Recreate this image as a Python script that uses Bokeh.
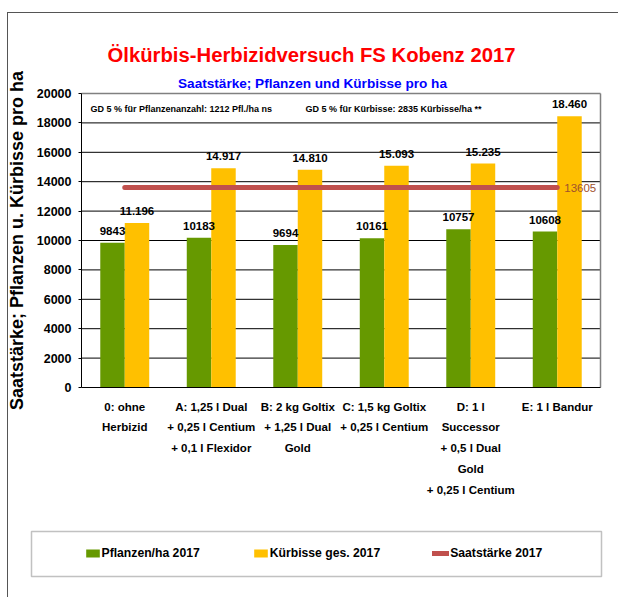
from bokeh.plotting import figure
from bokeh.models import (ColumnDataSource, FixedTicker, Label, Legend, LegendItem,
                          BoxAnnotation, Range1d)
from bokeh.transform import dodge
from bokeh.core.properties import value
from bokeh.embed import file_html
from bokeh.resources import INLINE

# ---------------- data ----------------
categories = [
    "0: ohne\nHerbizid",
    "A: 1,25 l Dual\n+ 0,25 l Centium\n+ 0,1 l Flexidor",
    "B: 2 kg Goltix\n+ 1,25 l Dual\nGold",
    "C: 1,5 kg Goltix\n+ 0,25 l Centium",
    "D: 1 l\nSuccessor\n+ 0,5 l Dual\nGold\n+ 0,25 l Centium",
    "E: 1 l Bandur",
]
pflanzen = [9843, 10183, 9694, 10161, 10757, 10608]
kuerbisse = [11196, 14917, 14810, 15093, 15235, 18460]
saatstaerke = [13605, 13605, 13605, 13605, 13605, 13605]
y_ticks = [0, 2000, 4000, 6000, 8000, 10000, 12000, 14000, 16000, 18000, 20000]

series_names = ["Pflanzen/ha 2017", "Kürbisse ges. 2017", "Saatstärke 2017"]
title_text = "Ölkürbis-Herbizidversuch FS Kobenz 2017"
subtitle_text = "Saatstärke; Pflanzen und Kürbisse pro ha"
y_label = "Saatstärke; Pflanzen u. Kürbisse pro ha"
gd_texts = ["GD 5 % für Pflanzenanzahl: 1212 Pfl./ha ns",
            "GD 5 % für Kürbisse:  2835 Kürbisse/ha **"]

FONT = "Liberation Sans"
GREEN = "#669900"
YELLOW = "#FFC000"
RED = "#C0504D"

n = len(categories)
y_max = y_ticks[-1]
xs = [i + 0.5 for i in range(n)]          # category centres on the axis

src = ColumnDataSource(dict(
    x=xs,
    pfl=pflanzen,
    kue=kuerbisse,
    saat=saatstaerke,
    pfl_lbl=[str(v) for v in pflanzen],
    kue_lbl=[f"{v:,}".replace(",", ".") for v in kuerbisse],
))

# canvas 611 x 585; plot area: 519 x 294 px, left edge at 73 px, bottom edge 211 px above canvas bottom
W, H = 611, 585
PA_L, PA_W, PA_B, PA_H = 73, 519, 211, 294
x_unit = PA_W / n
y_unit = PA_H / y_max
x_range = Range1d(-PA_L / x_unit, (W - PA_L) / x_unit)
y_range = Range1d(-PA_B / y_unit, (H - PA_B) / y_unit)

p = figure(x_range=x_range, y_range=y_range, width=W, height=H,
           min_border=0, min_border_left=0, min_border_right=0,
           min_border_top=0, min_border_bottom=0,
           output_backend="svg", toolbar_location=None)
p.styles = {"margin-left": "6.5px", "margin-top": "11.5px",
            "border-left": "1.5px solid #555555", "border-top": "1.5px solid #555555"}
p.background_fill_color = "white"
p.border_fill_color = "white"
p.outline_line_color = None
p.xgrid.grid_line_color = None
p.ygrid.grid_line_color = None

# y axis, fixed at the left edge of the plot area
p.yaxis.fixed_location = 0
p.yaxis.bounds = (0, y_max)
p.yaxis.ticker = FixedTicker(ticks=y_ticks)
p.yaxis.axis_line_color = "black"
p.yaxis.major_tick_line_color = "black"
p.yaxis.major_tick_out = 3
p.yaxis.major_tick_in = 0
p.yaxis.minor_tick_line_color = None
p.yaxis.major_label_standoff = 7
p.yaxis.major_label_text_font = FONT
p.yaxis.major_label_text_font_style = "bold"
p.yaxis.major_label_text_font_size = "12.5px"
p.yaxis.major_label_text_color = "black"
p.yaxis.axis_label = y_label
p.yaxis.axis_label_text_font = FONT
p.yaxis.axis_label_text_font_style = "bold"
p.yaxis.axis_label_text_font_size = "18px"
p.yaxis.axis_label_text_color = "black"
p.yaxis.axis_label_standoff = 7

# x axis, fixed at y = 0
p.xaxis.fixed_location = 0
p.xaxis.bounds = (0, n)
p.xaxis.ticker = FixedTicker(ticks=xs)
p.xaxis.major_label_overrides = {x: c for x, c in zip(xs, categories)}
p.xaxis.axis_line_color = "black"
p.xaxis.major_tick_out = 0
p.xaxis.major_tick_in = 0
p.xaxis.minor_tick_line_color = None
p.xaxis.major_label_standoff = 13
p.xaxis.major_label_text_font = FONT
p.xaxis.major_label_text_font_style = "bold"
p.xaxis.major_label_text_font_size = "11.5px"
p.xaxis.major_label_text_color = "black"
p.xaxis.major_label_text_line_height = 1.74

# grid lines and plot-area border (top / right in grey)
grid_ticks = y_ticks[1:-1]
p.segment(x0=[0] * len(grid_ticks), x1=[n] * len(grid_ticks), y0=grid_ticks, y1=grid_ticks,
          line_color="black", line_width=1)
p.segment(x0=[0, n], x1=[n, n], y0=[y_max, 0], y1=[y_max, y_max],
          line_color="#808080", line_width=1.5)

# bars and line
r1 = p.vbar(x=dodge("x", -0.1415), top="pfl", width=0.283,
            source=src, fill_color=GREEN, line_color=None)
r2 = p.vbar(x=dodge("x", 0.1415), top="kue", width=0.283,
            source=src, fill_color=YELLOW, line_color=None)
r3 = p.line(x="x", y="saat", source=src, line_color=RED, line_width=5, line_cap="round")

# value labels
common = dict(source=src, text_align="center", text_baseline="alphabetic", y_offset=-12,
              text_font=value(FONT), text_font_style="bold", text_font_size="11.5px",
              text_color="black")
p.text(x=dodge("x", -0.1415), y="pfl", text="pfl_lbl", **common)
p.text(x=dodge("x", 0.1415), y="kue", text="kue_lbl", **common)
p.text(x=[xs[-1]], y=[saatstaerke[-1]], text=[str(saatstaerke[-1])],
       x_offset=7, text_align="left", text_baseline="middle",
       text_font=value(FONT), text_font_size="11.5px", text_color="#A0522D")

# GD notes (screen units: from bottom-left of the canvas)
for sx, t in zip([82, 297], gd_texts):
    p.add_layout(Label(x=sx, y=489.7, x_units="screen", y_units="screen", text=t,
                       text_font=FONT, text_font_style="bold", text_font_size="9px",
                       text_color="black", text_baseline="middle", text_align="left"))

# titles
p.add_layout(Label(x=303, y=543.7, x_units="screen", y_units="screen", text=title_text,
                   text_font=FONT, text_font_style="bold", text_font_size="20.3px",
                   text_color="#FF0000", text_align="center", text_baseline="alphabetic"))
p.add_layout(Label(x=304, y=514.7, x_units="screen", y_units="screen", text=subtitle_text,
                   text_font=FONT, text_font_style="bold", text_font_size="13.6px",
                   text_color="#0000FF", text_align="center", text_baseline="alphabetic"))

# legend frame
p.add_layout(BoxAnnotation(left=23, right=593, top=67, bottom=22,
                           left_units="screen", right_units="screen",
                           top_units="screen", bottom_units="screen",
                           fill_alpha=0, line_color="#333333", line_width=1.5))

legend = Legend(items=[LegendItem(label=series_names[0], renderers=[r1]),
                       LegendItem(label=series_names[1], renderers=[r2]),
                       LegendItem(label=series_names[2], renderers=[r3])],
                orientation="horizontal", location=(76, 36), padding=0, margin=0,
                spacing=52, label_standoff=1, glyph_width=17, glyph_height=10,
                label_height=17,
                label_text_font=FONT, label_text_font_style="bold",
                label_text_font_size="12.2px", label_text_color="black",
                border_line_alpha=0, background_fill_alpha=0)
p.add_layout(legend)

open("out.html", "w").write(file_html(p, INLINE))
